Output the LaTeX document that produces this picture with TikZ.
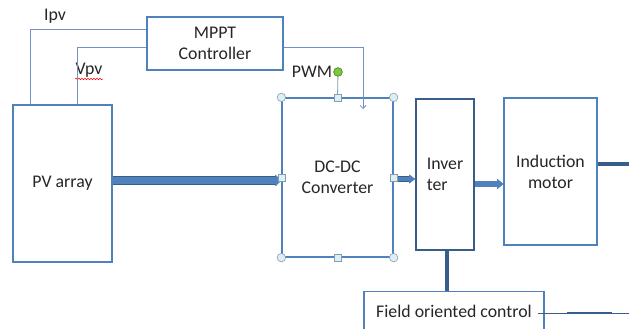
\documentclass[tikz,border=0pt]{standalone}
\usepackage{fontspec}
\setmainfont{Carlito}
\usetikzlibrary{arrows.meta,decorations.pathmorphing}
\definecolor{boxblue}{RGB}{79,129,189}
\definecolor{darkblue}{RGB}{56,93,138}
\definecolor{sigblue}{RGB}{112,146,200}
\definecolor{handlefill}{RGB}{222,238,242}
\definecolor{handledraw}{RGB}{130,160,180}
\definecolor{rotgreen}{RGB}{124,200,60}
\begin{document}
\begin{tikzpicture}[x=1pt,y=-1pt,
    block/.style={draw=boxblue, line width=1.3pt, inner sep=0pt,
      font=\fontsize{17.8}{21}\selectfont, text=black!85},
    lbl/.style={font=\fontsize{17.8}{21}\selectfont, text=black!85, inner sep=0pt},
    sig/.style={draw=sigblue, line width=0.8pt},
    bus/.style={draw=boxblue, line width=#1,
      preaction={draw=darkblue, line width=#1+1.2pt},
      -{Triangle[length=6pt,width=#1+4pt]}},
    handle/.style={circle, draw=handledraw, fill=handlefill, line width=0.6pt,
      minimum size=8.5pt, inner sep=0pt},
    sqhandle/.style={rectangle, draw=handledraw, fill=handlefill, line width=0.6pt,
      minimum size=7pt, inner sep=0pt}]
  \clip (0,0) rectangle (629,329);
  \fill[white] (0,0) rectangle (629,329);

  % blocks
  \node[block, minimum width=99pt, minimum height=157pt] (pv) at (62.5,183.5) {PV array};
  \node[block, minimum width=136pt, minimum height=53pt, align=center] (mppt) at (215,43.5) {MPPT\\Controller};
  \node[block, minimum width=111pt, minimum height=159pt, align=center] (dcdc) at (337.5,177.5) {DC-DC\\Converter};
  \node[block, draw=darkblue, line width=1.8pt, minimum width=58pt, minimum height=151pt, align=left] (inv) at (445,174.5) {Inver\\ter};
  \node[block, minimum width=93pt, minimum height=147pt, align=center] (motor) at (550.5,171.5) {Induction\\motor};
  \node[block, anchor=north, minimum width=180pt, text height=15pt, text depth=22pt, inner ysep=11pt] (foc) at (454,291) {Field oriented control};

  % labels
  \node[lbl] (ipv) at (55,16) {Ipv};
  \node[lbl] (vpv) at (89,70) {Vpv};
  \node[lbl] (pwm) at (312,72) {PWM};
  \draw[red, line width=0.5pt, decorate, decoration={snake, amplitude=0.7pt, segment length=3pt}] (75,79) -- (103,79);

  % signal lines
  \coordinate (pwmend) at (363,109);
  \draw[sig] ([xshift=18pt]pv.north west) |- ([yshift=14.5pt]mppt.west);
  \draw[sig] ([xshift=65pt]pv.north west) |- ([yshift=-3.5pt]mppt.west);
  \draw[sig, -{Straight Barb[length=3pt,width=6pt]}] ([yshift=-3.5pt]mppt.east) -| (pwmend);

  % power path
  \draw[bus=7pt] ([yshift=3pt]pv.east) -- ([yshift=-3pt]dcdc.west);
  \draw[bus=4.5pt] ([yshift=-1.5pt]dcdc.east) -- ([yshift=-4.5pt]inv.west);
  \draw[bus=5.5pt] ([yshift=-9.5pt]inv.east) -- ([yshift=-12.5pt]motor.west);
  \coordinate (shaft) at (629,164);
  \draw[darkblue, line width=3.5pt] ([yshift=7.5pt]motor.east) -- (shaft);
  \draw[darkblue, line width=3.5pt] ([xshift=2pt]inv.south) -- ([xshift=2pt]inv.south |- foc.north);

  % foc output
  \coordinate (focout) at (538,313);
  \coordinate (focend) at (629,313);
  \draw[darkblue, line width=1pt] (focout) -- (focend);
  \draw[darkblue, line width=2.8pt] (567,313) -- (612,313);

  % selection handles
  \node[handle, fill=rotgreen, draw=rotgreen!70!black] (rot) at (338,72) {};
  \draw[handledraw, line width=0.8pt] (dcdc.north) -- (rot);
  \node[handle, fill=rotgreen, draw=rotgreen!70!black] at (338,72) {};
  \foreach \c in {north west,north east,south west,south east}
    \node[handle] at (dcdc.\c) {};
  \foreach \c in {north,south,east,west}
    \node[sqhandle] at (dcdc.\c) {};
\end{tikzpicture}
\end{document}
